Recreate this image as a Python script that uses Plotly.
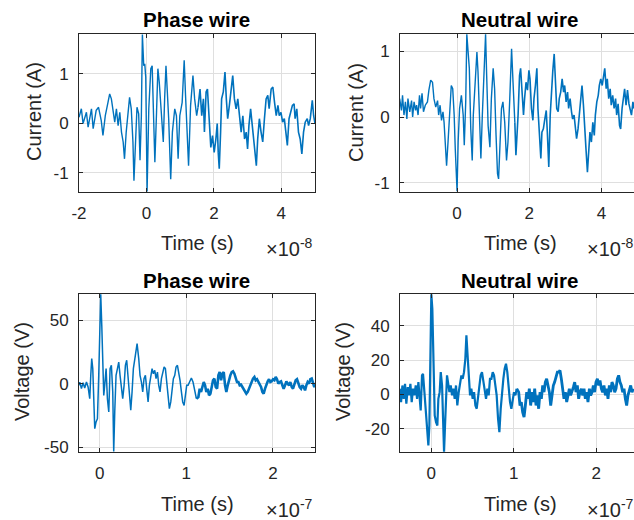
import plotly.graph_objects as go

# ---------------- data (time axes in scaled units shown by the x10^n label) ----------------
# Top-left: Phase wire current, time in 1e-8 s
t_phase_i_a = [-2.0,-1.93,-1.88,-1.78,-1.73,-1.63,-1.58,-1.49,-1.42,-1.34,-1.29,-1.22,-1.14,-1.09,-1.04,-0.99,-0.94,-0.89,-0.84,-0.79,-0.74,-0.69,-0.65,-0.60,-0.55,-0.50,-0.45,-0.40,-0.37,-0.33,-0.28,-0.23,-0.19,-0.15,-0.12,-0.08,-0.05,-0.02,0.02,0.07,0.13,0.17,0.21,0.25,0.30,0.34,0.38,0.44,0.50,0.54,0.58,0.62,0.66,0.72,0.77,0.84,0.89,0.94,0.99,1.06,1.12,1.16,1.21,1.25,1.31,1.38,1.43,1.49,1.53]
i_phase_a = [0.12,0.29,-0.01,0.22,-0.08,0.29,-0.11,0.26,0.32,0.05,-0.25,0.15,0.42,0.59,0.49,0.26,0.02,0.29,-0.05,0.22,-0.18,-0.38,-0.72,-0.18,0.22,0.52,0.29,-0.38,-1.16,-0.38,0.32,0.19,-0.75,0.15,1.79,1.16,1.20,0.93,-1.38,0.29,1.10,1.16,0.15,-0.79,0.22,1.10,0.83,0.09,-0.38,0.49,1.16,0.63,0.09,-1.13,-0.18,0.29,0.15,-0.72,0.15,0.42,1.27,0.56,-0.38,-0.86,0.36,0.96,0.49,0.15,0.32]
t_phase_i_b = [1.59,1.64,1.69,1.72,1.77,1.81,1.86,1.91,1.96,2.01,2.06,2.10,2.13,2.16,2.20,2.23,2.28,2.33,2.37,2.41,2.46,2.51,2.56,2.61,2.66,2.71,2.76,2.81,2.86,2.91,2.96,3.00,3.04,3.09,3.14,3.18,3.22,3.26,3.30,3.35,3.40,3.45,3.50,3.55,3.60,3.64,3.70,3.75,3.80,3.85,3.90,3.94,3.99,4.04,4.09,4.14,4.18,4.23,4.28,4.33,4.38,4.41,4.46,4.51,4.56,4.61,4.66,4.71,4.77,4.81,4.86,4.92,4.96,5.00]
i_phase_b = [0.69,0.15,0.49,-0.18,0.63,0.69,0.09,-0.49,-0.25,-0.59,-0.32,-0.01,-0.59,-0.92,-0.18,0.49,0.63,1.03,0.49,0.09,0.36,0.63,0.96,0.49,0.29,0.49,0.09,-0.18,0.15,-0.32,-0.18,-0.52,-0.05,0.29,-0.05,-0.32,-0.65,-0.86,-0.32,0.09,-0.18,-0.38,0.09,0.49,0.56,0.29,0.69,0.73,0.42,0.15,0.36,0.15,0.22,0.02,0.09,-0.18,-0.45,0.09,0.22,0.36,0.39,0.09,0.29,-0.18,-0.32,-0.62,-0.18,0.02,0.09,-0.05,0.09,0.46,0.15,-0.01]

# Top-right: Neutral wire current, time in 1e-8 s
t_neutral_i_a = [-1.59,-1.54,-1.51,-1.47,-1.43,-1.39,-1.36,-1.31,-1.26,-1.23,-1.19,-1.15,-1.12,-1.08,-1.04,-1.01,-0.97,-0.93,-0.88,-0.82,-0.78,-0.73,-0.68,-0.64,-0.59,-0.54,-0.51,-0.47,-0.43,-0.39,-0.36,-0.32,-0.29,-0.25,-0.20,-0.16,-0.12,-0.08,-0.05,0.00,0.03,0.07,0.12,0.17,0.20,0.24,0.27,0.30,0.34,0.38,0.42,0.45,0.51,0.55,0.58,0.62,0.66,0.70,0.75,0.79,0.82,0.86,0.91,0.95,1.00,1.04,1.08,1.12,1.15,1.19,1.23,1.27,1.32,1.37,1.41,1.46,1.51,1.55,1.60]
i_neutral_a = [0.28,0.10,0.33,0.03,0.23,-0.03,0.28,0.08,0.25,0.00,0.23,0.10,0.18,0.03,0.33,0.13,0.36,0.08,0.18,0.23,0.41,0.56,0.53,0.28,0.15,0.25,0.03,0.18,-0.05,0.08,-0.08,-0.38,-0.74,-0.38,0.18,0.48,0.43,0.03,-0.48,-1.13,-0.38,0.13,0.33,0.03,-0.43,0.23,1.26,0.99,0.74,-0.18,-0.66,0.03,0.58,0.99,0.69,-0.13,-0.63,0.03,0.74,1.26,0.63,-0.13,-0.46,0.28,0.74,0.43,-0.28,-0.86,-0.94,-0.23,0.13,0.23,-0.08,-0.66,-0.38,0.28,1.04,0.53,-0.08]
t_neutral_i_b = [1.63,1.69,1.73,1.76,1.80,1.84,1.87,1.91,1.95,1.99,2.02,2.06,2.10,2.13,2.17,2.21,2.24,2.28,2.32,2.35,2.39,2.43,2.47,2.50,2.54,2.58,2.61,2.65,2.69,2.72,2.76,2.80,2.83,2.87,2.91,2.95,2.98,3.02,3.06,3.09,3.13,3.17,3.20,3.24,3.28,3.31,3.35,3.39,3.43,3.46,3.50,3.54,3.57,3.61,3.65,3.68,3.72,3.76,3.80,3.83,3.87,3.91,3.94,3.98,4.02,4.05,4.09,4.13,4.16,4.20,4.24,4.27,4.31,4.35,4.39,4.42,4.46,4.50,4.53,4.57,4.61,4.64,4.68,4.72,4.76,4.79,4.83,4.87,4.90]
i_neutral_b = [-0.58,0.03,0.63,0.74,0.28,0.03,0.28,0.53,0.41,0.71,0.58,0.13,-0.05,0.28,0.48,0.74,0.13,-0.33,-0.63,-0.23,-0.18,-0.03,0.10,-0.23,-0.76,0.03,0.38,0.69,0.96,0.53,0.13,0.08,0.28,0.38,0.58,0.38,0.48,0.23,0.38,0.13,0.28,0.08,-0.03,0.03,-0.23,-0.33,-0.18,0.03,0.23,0.48,0.18,-0.13,-0.48,-0.84,-0.53,-0.23,-0.38,-0.08,-0.28,0.03,0.23,0.33,0.48,0.58,0.48,0.63,0.74,0.43,0.58,0.28,0.43,0.18,0.33,0.13,0.28,0.03,0.20,-0.13,-0.18,0.13,0.28,0.43,0.18,0.41,0.20,0.13,0.03,0.23,0.13]

# Bottom-left: Phase wire voltage, time in 1e-7 s
t_phase_v_a = [-0.24,-0.231,-0.212,-0.193,-0.174,-0.154,-0.135,-0.116,-0.104,-0.093,-0.081,-0.070,-0.058,-0.043,-0.027,-0.012,0.003,0.011,0.023,0.034,0.046,0.057,0.073,0.088,0.104,0.119,0.134,0.150,0.161,0.173,0.188,0.204,0.219,0.234,0.250,0.265,0.281,0.296,0.311,0.327,0.342,0.358,0.373,0.388,0.411,0.431,0.450,0.465,0.481,0.496,0.511,0.527,0.542,0.558,0.573,0.588,0.604,0.619,0.635,0.650,0.666,0.681,0.696,0.712,0.727,0.743,0.758,0.773,0.789,0.804,0.820,0.835,0.850,0.866,0.881,0.897,0.912,0.927,0.943,0.958,0.974,0.989,1.004,1.020,1.039,1.058,1.077,1.097,1.116]
v_phase_a = [-1.3,1.3,-3.9,0.8,-3.4,1.3,-2.6,-11.8,6.6,19.8,11.9,-14.4,-35.5,-30.2,-27.6,6.6,59.2,70.5,46.1,4.0,-9.2,-1.3,11.9,-11.8,-22.3,11.9,14.5,-6.5,-53.5,-22.3,6.6,11.9,17.1,6.6,-6.5,-11.8,-1.3,14.5,18.5,4.0,-14.4,-21.0,-6.5,11.9,22.4,31.6,19.8,6.6,1.3,-6.5,4.0,6.6,-3.9,-14.4,-1.3,6.6,11.9,7.9,10.6,4.0,9.2,-1.3,-6.5,4.0,9.2,13.2,11.9,1.3,-11.8,-19.7,-14.4,-3.9,4.0,6.6,13.2,14.5,9.2,2.7,-6.5,-14.4,-17.1,-9.2,-1.3,-1.3,1.3,4.5,1.3,-6.5,-11.8]
t_phase_v_b = [1.139,1.154,1.170,1.185,1.201,1.216,1.231,1.247,1.262,1.278,1.293,1.308,1.324,1.339,1.355,1.370,1.385,1.401,1.416,1.432,1.447,1.462,1.478,1.493,1.508,1.524,1.539,1.555,1.570,1.585,1.601,1.616,1.632,1.647,1.662,1.678,1.693,1.709,1.724,1.739,1.755,1.770,1.786,1.801,1.816,1.832,1.847,1.863,1.878,1.893,1.909,1.924,1.940,1.955,1.970,1.986,2.001,2.017,2.032,2.047,2.063,2.078,2.094,2.109,2.124,2.140,2.155,2.171,2.186,2.201,2.217,2.232,2.248,2.263,2.278,2.294,2.309,2.325,2.340,2.355,2.371,2.386,2.401,2.417,2.432,2.448,2.463,2.478,2.486]
v_phase_b = [-10.5,-3.9,-6.5,-2.6,1.3,-1.3,-6.5,-3.9,-9.2,-7.9,-1.3,2.7,4.0,-2.6,-3.9,6.6,9.2,2.7,7.9,9.2,-1.3,-6.5,-1.3,4.0,6.6,9.2,9.8,7.9,5.3,1.3,1.3,-1.3,-0.8,-2.6,-3.9,-6.5,-7.9,-6.5,-3.9,0.0,1.3,4.0,5.3,2.7,3.5,1.3,0.0,-2.6,-6.5,-7.9,-3.9,0.0,1.9,3.5,1.3,1.9,3.5,2.7,5.3,3.5,0.0,1.3,1.9,-1.3,-3.9,-1.3,1.9,0.0,-1.3,1.3,-2.6,-3.9,0.0,2.7,3.5,0.0,-2.6,-3.9,-1.3,-2.6,-5.2,-1.3,1.3,0.0,3.5,4.0,1.3,-2.6,-1.3]

# Bottom-right: Neutral wire voltage, time in 1e-7 s
t_neutral_v_a = [-0.383,-0.367,-0.351,-0.335,-0.319,-0.303,-0.286,-0.270,-0.254,-0.238,-0.222,-0.206,-0.189,-0.173,-0.157,-0.141,-0.129,-0.113,-0.101,-0.084,-0.068,-0.052,-0.036,-0.024,-0.012,0.000,0.012,0.025,0.041,0.057,0.073,0.085,0.101,0.114,0.130,0.142,0.154,0.166,0.178,0.190,0.202,0.219,0.235,0.251,0.267,0.283,0.299,0.315,0.332,0.348,0.364,0.380,0.396,0.412,0.425,0.437,0.453,0.469,0.485,0.501,0.518,0.534,0.550,0.566,0.582,0.598,0.614,0.631,0.647,0.663,0.679,0.695,0.711,0.728,0.744,0.760,0.776,0.792,0.809,0.825,0.841,0.857,0.873,0.889,0.905,0.921,0.938,0.954,0.970,0.986,1.002,1.019,1.035]
v_neutral_a = [3.3,-4.5,5.2,-2.6,6.2,-5.5,4.2,-0.6,6.2,-4.5,3.3,-0.6,5.2,-2.6,7.2,-2.6,-9.4,11.1,12.0,1.3,-10.4,-20.1,-29.9,-18.2,20.8,58.5,50.1,11.1,-12.3,-16.2,-18.2,-2.6,1.3,13.0,5.2,-14.3,-33.5,-18.2,1.3,11.1,7.2,1.3,5.2,-0.6,3.3,-2.6,5.2,-6.5,1.3,5.2,11.1,9.1,13.0,20.8,34.5,24.7,11.1,-0.6,3.3,-2.6,1.3,-6.5,-8.4,-0.6,5.2,11.1,13.0,7.2,1.3,-2.6,3.3,-0.6,9.1,9.1,13.0,11.1,5.2,-0.6,-14.3,-22.1,-8.4,1.3,9.1,15.0,17.9,13.0,3.3,-4.5,-8.4,-4.5,1.3,-0.6,3.3]
t_neutral_v_b = [1.059,1.075,1.091,1.107,1.124,1.140,1.156,1.172,1.188,1.204,1.221,1.237,1.253,1.269,1.285,1.301,1.318,1.334,1.350,1.366,1.382,1.398,1.415,1.431,1.447,1.463,1.479,1.495,1.512,1.528,1.544,1.560,1.576,1.592,1.608,1.625,1.641,1.657,1.673,1.689,1.705,1.722,1.738,1.754,1.770,1.786,1.802,1.819,1.835,1.851,1.867,1.883,1.899,1.916,1.932,1.948,1.964,1.980,1.996,2.013,2.029,2.045,2.061,2.077,2.093,2.110,2.126,2.142,2.158,2.174,2.190,2.206,2.223,2.239,2.255,2.271,2.287,2.303,2.320,2.336,2.352,2.368,2.384,2.400,2.417,2.433,2.449]
v_neutral_b = [1.3,-6.5,-4.5,-10.4,-13.3,-6.5,1.3,-2.6,3.3,-6.5,1.3,-4.5,3.3,-6.5,-0.6,-8.4,1.3,-2.6,5.2,1.3,7.2,9.1,5.2,1.3,-6.5,-0.6,5.2,7.2,11.1,13.0,13.0,14.0,9.1,1.3,-2.6,1.3,-4.5,-0.6,3.3,-0.6,1.3,4.2,7.2,1.3,5.2,-2.6,1.3,3.3,-0.6,3.3,-2.6,1.3,-4.5,3.3,-0.6,1.3,5.2,1.3,7.2,9.1,5.2,8.1,3.3,1.3,5.2,-0.6,3.3,-2.6,5.2,1.3,7.2,5.2,1.3,3.3,9.1,11.1,7.2,5.2,1.3,3.3,-2.6,-6.5,-0.6,3.3,5.2,1.3,3.3]

titles = ["Phase wire", "Neutral wire", "Phase wire", "Neutral wire"]
ylabels = ["Current (A)", "Current (A)", "Voltage (V)", "Voltage (V)"]
xlabel = "Time (s)"
exponents = ["-8", "-8", "-7", "-7"]

xt_top_left = [-2, 0, 2, 4]
xt_top_right = [0, 2, 4]
yt_current = [-1, 0, 1]
xt_bottom = [0, 1, 2]
yt_phase_v = [-50, 0, 50]
yt_neutral_v = [-20, 0, 20, 40]

# ---------------- styling ----------------
W, H = 634, 520
FONT = "Liberation Sans, Arial, Helvetica, sans-serif"
LINE = "#0072BD"
AXC = "#262626"
GRID = "#dfdfdf"

def px_x(p):
    return p / W

def px_y(p):
    return 1 - p / H

fig = go.Figure()
series = [
    (t_phase_i_a, i_phase_a, "x", "y", 1.4),
    (t_phase_i_b, i_phase_b, "x", "y", 1.6),
    (t_neutral_i_a, i_neutral_a, "x2", "y2", 1.4),
    (t_neutral_i_b, i_neutral_b, "x2", "y2", 1.6),
    (t_phase_v_a, v_phase_a, "x3", "y3", 1.5),
    (t_phase_v_b, v_phase_b, "x3", "y3", 2.6),
    (t_neutral_v_a, v_neutral_a, "x4", "y4", 2.2),
    (t_neutral_v_b, v_neutral_b, "x4", "y4", 2.8),
]
# join consecutive segments so the traces are continuous
prev = {}
for xs, ys, xa, ya, w in series:
    if xa in prev:
        px_, py_ = prev[xa]
        xs = [px_] + xs
        ys = [py_] + ys
    prev[xa] = (xs[-1], ys[-1])
    fig.add_trace(go.Scatter(x=xs, y=ys, xaxis=xa, yaxis=ya, mode="lines",
                             line=dict(color=LINE, width=w), showlegend=False,
                             hoverinfo="skip"))

def lbl(v):
    return "%g" % v  # plain hyphen minus, like the reference

def ax(domain, rng, ticks, anchor, mirror=True):
    return dict(domain=domain, range=rng, anchor=anchor, tickvals=ticks,
                ticktext=[lbl(v) for v in ticks], ticks="inside", ticklen=4,
                tickcolor=AXC, showline=True, linecolor=AXC, linewidth=1,
                mirror="allticks" if mirror else False, showgrid=True,
                gridcolor=GRID, gridwidth=1, zeroline=False, automargin=False,
                tickfont=dict(family=FONT, size=17, color=AXC),
                ticklabelstandoff=6, fixedrange=True)

dx_left = [px_x(79), px_x(315)]
dx_right = [px_x(400), 1.0]
dy_top = [px_y(192), px_y(34)]
dy_bot = [px_y(452), px_y(294)]

fig.update_layout(
    width=W, height=H, margin=dict(l=0, r=0, t=0, b=0, pad=0), autosize=False,
    paper_bgcolor="white", plot_bgcolor="white",
    xaxis=ax(dx_left, [-2, 5], xt_top_left, "y"),
    yaxis=ax(dy_top, [-1.39, 1.80], yt_current, "x"),
    xaxis2=ax(dx_right, [-1.58, 4.90], xt_top_right, "y2"),
    yaxis2=ax(dy_top, [-1.14, 1.263], yt_current, "x2", mirror=False),
    xaxis3=ax(dx_left, [-0.24, 2.486], xt_bottom, "y3"),
    yaxis3=ax(dy_bot, [-53.9, 70.8], yt_phase_v, "x3"),
    xaxis4=ax(dx_right, [-0.38, 2.457], xt_bottom, "y4"),
    yaxis4=ax(dy_bot, [-33.7, 58.7], yt_neutral_v, "x4", mirror=False),
)

ann = []
title_pos = [(196, 20), (519, 20), (196, 280), (519, 280)]
ylab_pos = [(34, 112), (356, 112), (22, 372), (343, 372)]
xlab_pos = [(197, 243), (520, 243), (197, 504), (520, 504)]
exp_pos = [(315, 247, "right"), (585, 247, "left"), (315, 508, "right"), (585, 508, "left")]
for k in range(4):
    ann.append(dict(text="<b>%s</b>" % titles[k], x=px_x(title_pos[k][0]), y=px_y(title_pos[k][1]),
                    xref="paper", yref="paper", xanchor="center", yanchor="middle",
                    showarrow=False, font=dict(family=FONT, size=20.5, color="black")))
    ann.append(dict(text=ylabels[k], x=px_x(ylab_pos[k][0]), y=px_y(ylab_pos[k][1]),
                    xref="paper", yref="paper", xanchor="center", yanchor="middle",
                    textangle=-90, showarrow=False, font=dict(family=FONT, size=20, color=AXC)))
    ann.append(dict(text=xlabel, x=px_x(xlab_pos[k][0]), y=px_y(xlab_pos[k][1]),
                    xref="paper", yref="paper", xanchor="center", yanchor="middle",
                    showarrow=False, font=dict(family=FONT, size=20, color=AXC)))
    ann.append(dict(text="\u00d710<sup>%s</sup>" % exponents[k], x=px_x(exp_pos[k][0]),
                    y=px_y(exp_pos[k][1]), xref="paper", yref="paper",
                    xanchor=exp_pos[k][2], yanchor="middle", showarrow=False,
                    font=dict(family=FONT, size=20, color=AXC)))
fig.update_layout(annotations=ann)

fig.write_html("out.html", config={"displayModeBar": False},
               post_script="document.body.style.margin='0px';"
                           "document.documentElement.style.overflow='hidden';")
